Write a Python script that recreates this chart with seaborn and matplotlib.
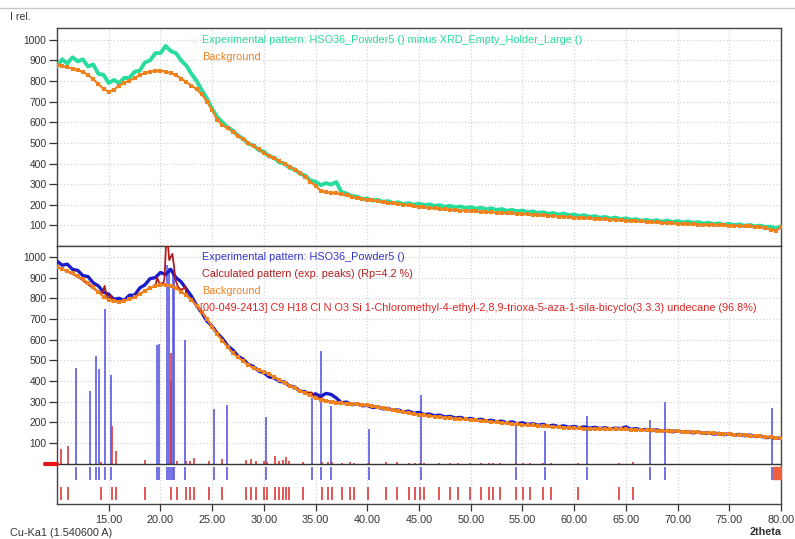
import numpy as np
import pandas as pd
import seaborn as sns
import matplotlib.pyplot as plt

sns.set_theme(style="white")
plt.rcParams['font.family'] = ['Liberation Sans', 'DejaVu Sans']

# 2theta grid of the scan (deg)
two_theta = np.arange(10.0, 80.01, 0.5)

# top panel: pattern minus empty holder, and its background
top_exp = [870, 905, 885, 915, 895, 905, 870, 880, 835, 830,
           790, 805, 790, 815, 815, 845, 850, 890, 900, 935,
           935, 970, 945, 935, 900, 875, 835, 800, 755, 715,
           665, 625, 600, 575, 560, 535, 520, 495, 488, 465,
           458, 435, 428, 405, 400, 378, 372, 350, 342, 318,
           312, 295, 305, 298, 310, 262, 255, 242, 240, 228,
           230, 220, 224, 214, 218, 208, 212, 203, 208, 200,
           206, 198, 202, 194, 198, 190, 195, 187, 192, 184,
           189, 181, 186, 178, 183, 175, 179, 171, 175, 168,
           172, 164, 168, 160, 164, 156, 160, 152, 157, 149,
           153, 145, 149, 141, 145, 137, 141, 133, 138, 130,
           134, 127, 130, 123, 127, 120, 125, 118, 123, 116,
           121, 114, 119, 112, 116, 109, 113, 106, 110, 103,
           108, 101, 105, 98, 102, 95, 99, 92, 94, 86,
           95]
top_bkg = [878, 872, 866, 860, 852, 845, 830, 808, 785, 762,
           748, 758, 778, 792, 802, 815, 828, 838, 846, 850,
           850, 846, 838, 828, 812, 795, 778, 760, 735, 700,
           660, 610, 588, 570, 555, 535, 518, 500, 483, 468,
           452, 438, 425, 412, 398, 385, 370, 355, 335, 312,
           292, 268, 262, 258, 256, 252, 245, 238, 232, 228,
           225, 221, 217, 213, 210, 207, 204, 201, 197, 193,
           190, 188, 185, 182, 180, 178, 176, 174, 172, 171,
           170, 168, 167, 165, 164, 162, 161, 159, 158, 156,
           155, 153, 151, 150, 148, 147, 145, 143, 141, 140,
           138, 137, 135, 134, 132, 131, 129, 128, 126, 125,
           123, 122, 120, 119, 117, 116, 114, 113, 111, 110,
           108, 107, 106, 105, 104, 103, 102, 101, 100, 100,
           99, 98, 97, 96, 95, 94, 92, 88, 80, 75,
           90]

# bottom panel: raw pattern and background
bot_exp = [980, 960, 965, 940, 935, 910, 905, 875, 860, 830,
           820, 795, 800, 790, 815, 815, 850, 865, 895, 900,
           925, 915, 940, 900, 880, 845, 810, 765, 730, 690,
           665, 630, 605, 570, 550, 520, 505, 480, 470, 448,
           440, 420, 415, 398, 395, 375, 370, 350, 348, 330,
           338, 325, 340, 335, 318, 295, 298, 285, 290, 280,
           282, 272, 275, 265, 268, 258, 260, 250, 254, 244,
           248, 238, 240, 232, 235, 226, 229, 221, 224, 216,
           219, 212, 215, 207, 210, 203, 206, 198, 202, 194,
           198, 190, 193, 186, 190, 182, 186, 179, 183, 176,
           180, 174, 178, 172, 176, 170, 174, 168, 172, 170,
           178, 166, 170, 163, 166, 160, 164, 157, 161, 154,
           160, 152, 156, 149, 153, 146, 150, 143, 147, 140,
           146, 138, 142, 135, 139, 131, 134, 126, 128, 122,
           125]
bot_bkg = [953, 943, 932, 921, 907, 892, 875, 855, 830, 808,
           793, 786, 784, 788, 795, 805, 820, 836, 850, 860,
           866, 864, 860, 850, 832, 815, 792, 765, 735, 700,
           662, 625, 595, 565, 535, 515, 497, 478, 462, 452,
           444, 432, 418, 404, 391, 378, 365, 353, 342, 330,
           317, 310, 302, 298, 295, 293, 291, 289, 287, 285,
           282, 278, 273, 268, 263, 258, 254, 250, 245, 241,
           237, 234, 231, 228, 226, 223, 221, 218, 216, 214,
           212, 210, 207, 205, 202, 200, 198, 195, 193, 190,
           188, 186, 185, 183, 181, 180, 178, 177, 175, 174,
           172, 171, 170, 170, 169, 169, 168, 168, 167, 167,
           166, 165, 164, 163, 162, 161, 160, 159, 158, 157,
           156, 155, 153, 152, 151, 150, 148, 147, 146, 145,
           143, 141, 140, 138, 136, 134, 132, 130, 127, 124,
           123]

# calculated pattern (exp. peaks)
calc_x = [10.0, 12.0, 14.0, 14.4, 14.6, 14.8, 15.0, 15.2, 15.4, 16.0, 17.0, 18.0,
          19.0, 19.5, 19.7, 19.9, 20.3, 20.4, 20.55, 20.75, 20.85, 21.0, 21.15,
          21.3, 21.45, 21.7, 22.0, 22.3, 22.4, 22.5, 23.0, 24.0, 25.0, 27.0,
          29.0, 30.3, 32.0, 34.0, 34.6, 35.0, 35.6, 36.0, 36.5, 38.0, 40.0,
          45.0, 50.0, 55.0, 60.0, 65.0, 70.0, 75.0, 80.0]
calc_y = [953, 905, 830, 825, 860, 815, 795, 815, 790, 784, 795, 820,
          850, 860, 900, 870, 875, 900, 1075, 1045, 985, 1000, 1015,
          960, 890, 855, 840, 850, 860, 818, 792, 735, 662, 535,
          462, 440, 391, 342, 345, 320, 316, 302, 303, 291, 282,
          237, 212, 188, 172, 166, 156, 143, 123]

# reference phase 00-049-2413 reflections
ref_pos = [11.88, 13.23, 13.81, 14.04, 14.62, 15.20, 19.66, 19.84, 20.59, 20.81,
           20.98, 21.23, 21.36, 22.36, 25.17, 26.46, 30.17, 34.63, 35.55, 36.46,
           40.17, 45.18, 54.40, 57.20, 61.20, 67.30, 68.76, 79.15]
ref_int = [464, 350, 522, 457, 747, 428, 575, 578, 960, 945,
           400, 935, 898, 600, 264, 282, 225, 319, 545, 277,
           168, 333, 196, 159, 233, 212, 298, 269]

# experimental peak list
pk_pos = [10.42, 11.07, 14.30, 15.30, 15.68, 18.52, 21.07, 21.65, 22.52, 22.90,
          23.23, 24.71, 25.91, 28.24, 28.72, 29.20, 30.04, 30.27, 31.07, 31.46,
          31.82, 32.14, 32.46, 33.82, 35.60, 36.24, 36.56, 37.59, 38.34, 38.72,
          40.10, 41.79, 42.85, 44.08, 44.63, 45.05, 45.50, 46.98, 48.00, 48.80,
          49.95, 51.02, 51.72, 52.20, 52.80, 54.40, 55.05, 55.76, 56.95, 57.80,
          60.38, 64.38, 65.70]
pk_int = [71, 87, 8, 180, 60, 18, 536, 15, 12, 15,
          28, 15, 25, 18, 25, 15, 12, 10, 35, 15,
          18, 30, 15, 8, 8, 10, 10, 5, 6, 5,
          5, 8, 8, 5, 5, 5, 5, 5, 5, 5,
          5, 5, 5, 5, 5, 5, 5, 5, 5, 5,
          4, 4, 6]

x_ticks = [15, 20, 25, 30, 35, 40, 45, 50, 55, 60, 65, 70, 75, 80]
y_ticks = [100, 200, 300, 400, 500, 600, 700, 800, 900, 1000]

c_green = '#28dc9c'
c_orange = '#f0821e'
c_blue = '#1c1cc8'
c_stick = '#5a5ae0'
c_calc = '#b01c1c'
c_red = '#dd3a3a'
grid_c = '#d4d4d4'

df_top = pd.DataFrame({'2theta': two_theta, 'exp': top_exp, 'bkg': top_bkg})
df_bot = pd.DataFrame({'2theta': two_theta, 'exp': bot_exp, 'bkg': bot_bkg})

fig = plt.figure(figsize=(7.95, 5.39), dpi=100)
W, H = 795, 539
L, R = 57 / W, 781 / W
ax1 = fig.add_axes([L, 1 - 246 / H, R - L, (246 - 28) / H])
ax2 = fig.add_axes([L, 1 - 504 / H, R - L, (504 - 246) / H])

for ax in (ax1, ax2):
    ax.set_xlim(10, 80)
    ax.set_yticks(y_ticks)
    ax.set_xticks(x_ticks)
    ax.grid(True, color=grid_c, ls=':', lw=0.9)
    ax.set_axisbelow(True)
    ax.tick_params(axis='y', which='both', left=True, length=6, width=0.9,
                   pad=1.5, labelsize=7.4, colors='#333333')
    for s in ax.spines.values():
        s.set_color('#444444')
        s.set_linewidth(1.0)

# top panel
ax1.set_ylim(0, 1057)
sns.lineplot(data=df_top, x='2theta', y='exp', ax=ax1, color=c_green, lw=2.8,
             estimator=None, sort=False, zorder=3)
sns.lineplot(data=df_top, x='2theta', y='bkg', ax=ax1, color=c_orange, lw=1.6,
             marker='s', markersize=3.2, markeredgewidth=0, estimator=None,
             sort=False, zorder=4)
ax1.tick_params(axis='x', bottom=False, labelbottom=False)
ax1.set_xlabel('')
ax1.set_ylabel('')

# bottom panel
ax2.set_ylim(-195, 1053)
ax2.vlines(ref_pos, 0, ref_int, color=c_stick, lw=1.2, zorder=2)
ax2.vlines(pk_pos, 0, pk_int, color=c_red, lw=1.2, zorder=2)
sns.lineplot(data=df_bot, x='2theta', y='exp', ax=ax2, color=c_blue, lw=2.4,
             estimator=None, sort=False, zorder=3)
sns.lineplot(x=calc_x, y=calc_y, ax=ax2, color=c_calc, lw=1.3,
             estimator=None, sort=False, zorder=4)
sns.lineplot(data=df_bot, x='2theta', y='bkg', ax=ax2, color=c_orange, lw=1.6,
             marker='s', markersize=3.2, markeredgewidth=0, estimator=None,
             sort=False, zorder=5)
ax2.axhline(0, color='#333333', lw=1.0, zorder=6)
ax2.vlines(ref_pos, -77, -14, color=c_stick, lw=1.2, zorder=6)
ax2.vlines(pk_pos, -174, -112, color=c_red, lw=1.2, zorder=6)
ax2.fill_between([79.2, 80], -72, -14, color='#f0603c', zorder=6)
ax2.plot([-0.017, 0], [0, 0], transform=ax2.get_yaxis_transform(),
         color='#e01818', lw=3, clip_on=False, zorder=7)
ax2.set_xticklabels([f'{v:.2f}' for v in x_ticks])
ax2.tick_params(axis='x', bottom=True, length=5, width=0.9, pad=3,
                labelsize=7.8, colors='#333333')
ax2.set_xlabel('')
ax2.set_ylabel('')

# texts
fs = 7.8
tx = 202 / W
fig.text(tx, 1 - 40 / H, 'Experimental pattern: HSO36_Powder5 () minus XRD_Empty_Holder_Large ()',
         color=c_green, fontsize=fs, va='center')
fig.text(tx, 1 - 57 / H, 'Background', color=c_orange, fontsize=fs, va='center')
fig.text(tx, 1 - 257 / H, 'Experimental pattern: HSO36_Powder5 ()',
         color='#3434d0', fontsize=fs, va='center', zorder=10)
fig.text(tx, 1 - 274 / H, 'Calculated pattern (exp. peaks) (Rp=4.2 %)',
         color=c_calc, fontsize=fs, va='center', zorder=10)
fig.text(tx, 1 - 291 / H, 'Background', color=c_orange, fontsize=fs, va='center', zorder=10)
fig.text(200 / W, 1 - 308 / H,
         '[00-049-2413] C9 H18 Cl N O3 Si 1-Chloromethyl-4-ethyl-2,8,9-trioxa-5-aza-1-sila-bicyclo(3.3.3) undecane (96.8%)',
         color='#e02424', fontsize=fs, va='center', zorder=10)

fig.text(10 / W, 1 - 17 / H, 'I rel.', fontsize=7.6, color='#333333', va='center')
fig.text(10 / W, 1 - 533 / H, 'Cu-Ka1 (1.540600 A)', fontsize=7.8, color='#333333', va='center')
fig.text(782 / W, 1 - 532 / H, '2theta', fontsize=7.8, color='#333333',
         fontweight='bold', ha='right', va='center')
fig.add_artist(plt.Line2D([0, 1], [1 - 8 / H, 1 - 8 / H], color='#c8c8c8', lw=1.0))

fig.savefig('out.png', dpi=100)
